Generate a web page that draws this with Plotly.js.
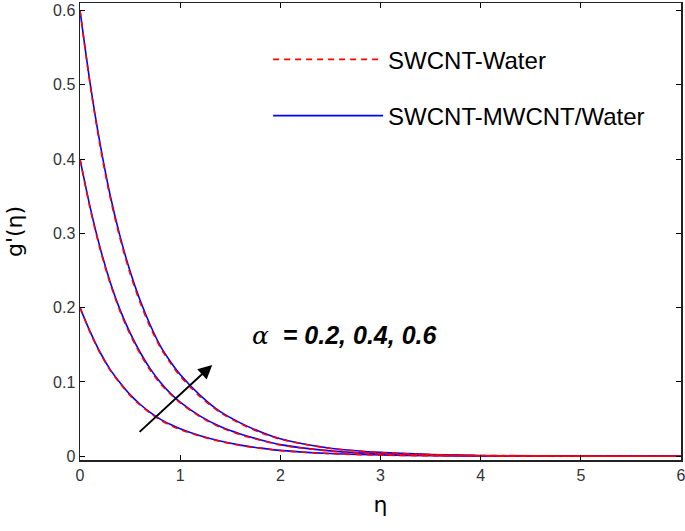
<!DOCTYPE html>
<html>
<head>
<meta charset="utf-8">
<script src="https://cdn.plot.ly/plotly-3.0.1.min.js"></script>
<style>html,body{margin:0;padding:0;background:#fff;}#chart{width:685px;height:531px;}</style>
</head>
<body>
<div id="chart"></div>
<script>
// eta grid
const eta = [0, 0.1, 0.2, 0.3, 0.4, 0.5, 0.6, 0.7, 0.8, 0.9, 1.0, 1.2, 1.4, 1.6, 1.8, 2.0, 2.5, 3.0, 3.5, 4.0, 5.0, 6.0];
const alphaLabels = ["0.2", "0.4", "0.6"];
// SWCNT-Water (red dashed)
const sw_a02 = [0.2, 0.167, 0.139, 0.116, 0.098, 0.082, 0.069, 0.058, 0.049, 0.042, 0.036, 0.027, 0.020, 0.0146, 0.0108, 0.0076, 0.0035, 0.0016, 0.0007, 0.0003, 0.0001, 0.0];
const sw_a04 = [0.4, 0.334, 0.279, 0.233, 0.195, 0.164, 0.138, 0.116, 0.098, 0.084, 0.072, 0.053, 0.039, 0.029, 0.0216, 0.0152, 0.0070, 0.0032, 0.0015, 0.0007, 0.0002, 0.0];
const sw_a06 = [0.6, 0.501, 0.418, 0.349, 0.293, 0.246, 0.207, 0.174, 0.147, 0.126, 0.108, 0.080, 0.059, 0.044, 0.032, 0.023, 0.0105, 0.0050, 0.0023, 0.0011, 0.0003, 0.0001];
// SWCNT-MWCNT/Water (blue solid)
const hy_a02 = [0.2, 0.168, 0.140, 0.117, 0.099, 0.083, 0.070, 0.059, 0.050, 0.043, 0.037, 0.0276, 0.0205, 0.0150, 0.0111, 0.0079, 0.0037, 0.0017, 0.0007, 0.0003, 0.0001, 0.0];
const hy_a04 = [0.4, 0.336, 0.281, 0.235, 0.197, 0.166, 0.140, 0.118, 0.100, 0.085, 0.073, 0.054, 0.040, 0.030, 0.0222, 0.0157, 0.0073, 0.0033, 0.0015, 0.0007, 0.0002, 0.0];
const hy_a06 = [0.6, 0.503, 0.421, 0.352, 0.296, 0.249, 0.210, 0.177, 0.149, 0.128, 0.110, 0.082, 0.060, 0.045, 0.033, 0.0237, 0.0109, 0.0052, 0.0024, 0.0011, 0.0003, 0.0001];
const seriesNames = ["SWCNT-Water", "SWCNT-MWCNT/Water"];

const FONT = "Liberation Sans, Arial, sans-serif";
const traces = [];
[hy_a02, hy_a04, hy_a06].forEach((ys, i) => {
  traces.push({x: eta, y: ys, type: 'scatter', mode: 'lines', line: {color: 'rgb(0,0,255)', width: 1.6, shape: 'spline', smoothing: 0.8},
    name: seriesNames[1], legendgroup: 'hy', showlegend: i === 0, legendrank: 2});
});
[sw_a02, sw_a04, sw_a06].forEach((ys, i) => {
  traces.push({x: eta, y: ys, type: 'scatter', mode: 'lines', line: {color: 'rgb(255,0,0)', width: 1.6, dash: '6px,5px', shape: 'spline', smoothing: 0.8},
    name: seriesNames[0], legendgroup: 'sw', showlegend: i === 0, legendrank: 1});
});

const axisCommon = {showgrid: false, zeroline: false, ticks: 'inside', ticklen: 5, tickwidth: 1, tickcolor: '#000',
  showline: true, linecolor: '#222', linewidth: 1.5, mirror: 'ticks', ticklabeloverflow: 'allow',
  tickfont: {family: FONT, size: 16, color: '#333'}};

const layout = {
  width: 685, height: 531,
  margin: {l: 80, r: 4, t: 3, b: 71},
  paper_bgcolor: '#fff', plot_bgcolor: '#fff',
  showlegend: true,
  legend: {x: 0.313, y: 0.925, xanchor: 'left', yanchor: 'top', bgcolor: 'rgba(0,0,0,0)', borderwidth: 0,
    font: {family: FONT, size: 24, color: '#000'}, traceorder: 'grouped', tracegroupgap: 22, itemwidth: 110},
  xaxis: Object.assign({}, axisCommon, {range: [0, 6], dtick: 1, tick0: 0,
    title: {text: 'η', font: {family: 'DejaVu Sans, sans-serif', size: 22, color: '#000'}, standoff: 14}}),
  yaxis: Object.assign({}, axisCommon, {range: [-0.005, 0.61], dtick: 0.1, tick0: 0,
    title: {text: "g'(η)", font: {family: 'DejaVu Sans, sans-serif', size: 22, color: '#000'}, standoff: 24}}),
  annotations: [
    {x: 2.64, y: 0.162, xref: 'x', yref: 'y', showarrow: false,
     text: '<span style="font-family:DejaVu Serif;font-style:italic">α</span>  <b><i>= ' + alphaLabels.join(', ') + '</i></b>',
     font: {family: FONT, size: 25, color: '#000'}},
    {x: 1.32, y: 0.123, ax: 0.58, ay: 0.031, xref: 'x', yref: 'y', axref: 'x', ayref: 'y',
     text: '', showarrow: true, arrowhead: 2, arrowsize: 1.4, arrowwidth: 2, arrowcolor: '#000'}
  ]
};
Plotly.newPlot('chart', traces, layout, {displayModeBar: false, staticPlot: true});
</script>
</body>
</html>
